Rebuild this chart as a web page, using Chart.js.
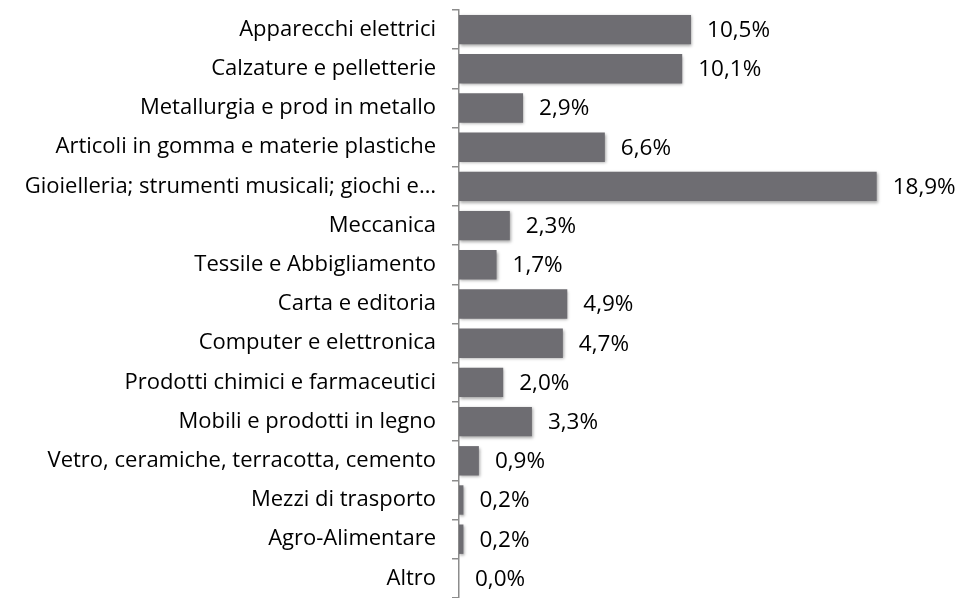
<!DOCTYPE html>
<html>
<head>
<meta charset="utf-8">
<script src="https://cdn.jsdelivr.net/npm/chart.js@4"></script>
<style>
html,body{margin:0;padding:0;background:#fff;}
#wrap{width:960px;height:598px;position:relative;}
</style>
</head>
<body>
<div id="wrap"><canvas id="c"></canvas></div>
<script>
const categories = [
  "Apparecchi elettrici",
  "Calzature e pelletterie",
  "Metallurgia e prod in metallo",
  "Articoli in gomma e materie plastiche",
  "Gioielleria; strumenti musicali; giochi e…",
  "Meccanica",
  "Tessile e Abbigliamento",
  "Carta e editoria",
  "Computer e elettronica",
  "Prodotti chimici e farmaceutici",
  "Mobili e prodotti in legno",
  "Vetro, ceramiche, terracotta, cemento",
  "Mezzi di trasporto",
  "Agro-Alimentare",
  "Altro"
];
const values = [10.5, 10.1, 2.9, 6.6, 18.9, 2.3, 1.7, 4.9, 4.7, 2.0, 3.3, 0.9, 0.2, 0.2, 0.0];

const FONT = "'Open Sans', sans-serif";

const shadowPlugin = {
  id: 'shadow',
  beforeDatasetsDraw(chart) {
    const ctx = chart.ctx;
    ctx.save();
    ctx.shadowColor = 'rgba(0,0,0,0.35)';
    ctx.shadowBlur = 3;
    ctx.shadowOffsetX = 1;
    ctx.shadowOffsetY = 1.5;
  },
  afterDatasetsDraw(chart) {
    chart.ctx.restore();
  }
};

const labelPlugin = {
  id: 'valueLabels',
  afterDatasetsDraw(chart) {
    const ctx = chart.ctx;
    const meta = chart.getDatasetMeta(0);
    ctx.save();
    ctx.font = "22.5px " + FONT;
    ctx.fillStyle = '#000';
    ctx.textAlign = 'left';
    ctx.textBaseline = 'middle';
    meta.data.forEach((bar, i) => {
      const txt = values[i].toFixed(1).replace('.', ',') + '%';
      ctx.fillText(txt, bar.x + 16, bar.y + 1);
    });
    ctx.restore();
  }
};

new Chart(document.getElementById('c'), {
  type: 'bar',
  data: {
    labels: categories,
    datasets: [{
      data: values,
      backgroundColor: '#6e6d72',
      borderWidth: 0,
      categoryPercentage: 0.75,
      barPercentage: 1.0
    }]
  },
  options: {
    indexAxis: 'y',
    responsive: true,
    maintainAspectRatio: false,
    animation: false,
    layout: { padding: { top: 10, bottom: 0, left: 0, right: 59 } },
    plugins: { legend: { display: false }, tooltip: { enabled: false } },
    scales: {
      x: { display: false, min: 0, max: 20 },
      y: {
        afterFit(scale) { scale.width = 459; scale.paddingTop = 0; scale.paddingBottom = 0; },
        border: { display: true, color: '#8c8c8c', width: 1.5 },
        grid: { offset: true, drawOnChartArea: false, drawTicks: true, tickLength: 7, color: '#8c8c8c', lineWidth: 1.5 },
        ticks: { color: '#000', font: { family: FONT, size: 22 }, padding: 16, autoSkip: false }
      }
    }
  },
  plugins: [shadowPlugin, labelPlugin]
});
</script>
</body>
</html>
